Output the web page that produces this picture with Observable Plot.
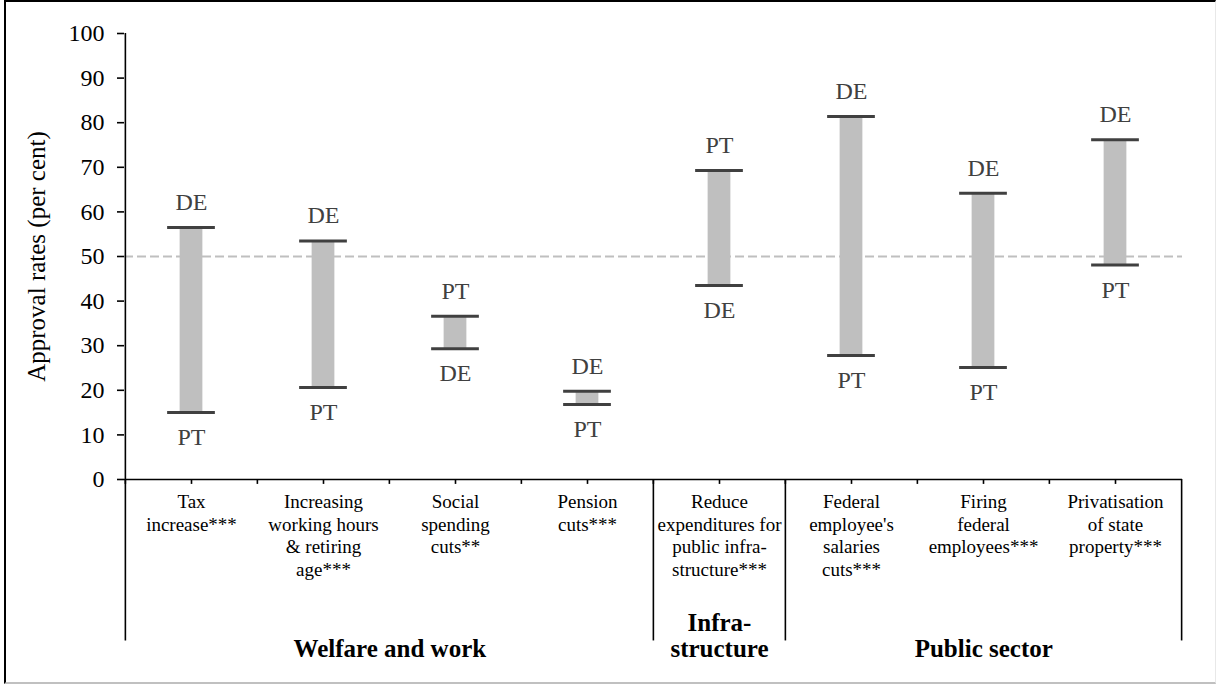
<!DOCTYPE html>
<html>
<head>
<meta charset="utf-8">
<script src="https://cdn.jsdelivr.net/npm/d3@7"></script>
<script src="https://cdn.jsdelivr.net/npm/@observablehq/plot@0.6"></script>
<style>
  html, body { margin: 0; padding: 0; background: #fff; }
  #wrap { position: relative; width: 1216px; height: 684px; overflow: hidden; }
  #border { position: absolute; left: 4px; top: 0; width: 1212px; height: 684px; box-sizing: border-box;
    border-top: 2px solid #000; border-left: 2px solid #000; border-bottom: 2px solid #c0c0c0; border-right: 1px solid #e8e8e8;
    pointer-events: none; }
</style>
</head>
<body>
<div id="wrap"><div id="border"></div></div>
<script>
// ---- data ----
const categories = [
  "Tax\nincrease***",
  "Increasing\nworking hours\n& retiring\nage***",
  "Social\nspending\ncuts**",
  "Pension\ncuts***",
  "Reduce\nexpenditures for\npublic infra-\nstructure***",
  "Federal\nemployee's\nsalaries\ncuts***",
  "Firing\nfederal\nemployees***",
  "Privatisation\nof state\nproperty***"
];
const deValues = [56.5, 53.5, 29.3, 19.8, 43.5, 81.4, 64.2, 76.2];
const ptValues = [15.0, 20.6, 36.6, 16.8, 69.3, 27.8, 25.1, 48.1];
const groupNames = ["Welfare and work", "Infra-\nstructure", "Public sector"];
const groupStart = [0, 4, 5];
const groupEnd = [4, 5, 8];
const yTicks = [0, 10, 20, 30, 40, 50, 60, 70, 80, 90, 100];
const referenceLine = 50;
const yTitle = "Approval rates (per cent)";

// ---- layout ----
const W = 1216, H = 684, ML = 124, MR = 34, MT = 33, MB = 205;
const bw = (W - ML - MR) / categories.length;
const barW = 23, capW = 48;

const rows = categories.map((c, i) => ({
  cat: c, de: deValues[i], pt: ptValues[i],
  hi: Math.max(deValues[i], ptValues[i]), lo: Math.min(deValues[i], ptValues[i]),
  hiLab: deValues[i] >= ptValues[i] ? "DE" : "PT",
  loLab: deValues[i] >= ptValues[i] ? "PT" : "DE"
}));

const lineBottom = -36.2;   // divider lines below the axis (in y units)
const tickBottom = -1.1;

const boundaries = [...new Set([...groupStart, ...groupEnd])];
const dividerMarks = boundaries.map(b => Plot.ruleX([categories[Math.min(b, categories.length - 1)]], {
  y1: () => b === 0 ? 100 : 0, y2: () => lineBottom,
  dx: b < categories.length ? -bw / 2 : bw / 2,
  stroke: "#000", strokeWidth: 1.6
}));

const groupMarks = groupNames.map((g, k) => Plot.text([g], {
  x: () => categories[groupStart[k]], y: () => 0,
  dx: (groupEnd[k] - groupStart[k]) * bw / 2 - bw / 2,
  dy: 177, lineAnchor: "bottom", lineHeight: 1.02,
  fontSize: 25, fontWeight: "bold", fill: "#000", text: d => d
}));

const chart = Plot.plot({
  width: W, height: H,
  marginLeft: ML, marginRight: MR, marginTop: MT, marginBottom: MB,
  style: { fontFamily: "'Liberation Serif', 'Times New Roman', serif", fontSize: "23px", background: "transparent", color: "#000", overflow: "visible" },
  x: { type: "band", domain: categories, padding: 0, axis: null },
  y: { domain: [0, 100], axis: null },
  marks: [
    Plot.ruleY([referenceLine], { stroke: "#bfbfbf", strokeWidth: 2, strokeDasharray: "9,4" }),
    Plot.barY(rows, { x: "cat", y1: "lo", y2: "hi", fill: "#bfbfbf",
      insetLeft: (bw - barW) / 2, insetRight: (bw - barW) / 2 }),
    Plot.tickY(rows, { x: "cat", y: "de", stroke: "#404040", strokeWidth: 3,
      insetLeft: (bw - capW) / 2, insetRight: (bw - capW) / 2 }),
    Plot.tickY(rows, { x: "cat", y: "pt", stroke: "#404040", strokeWidth: 3,
      insetLeft: (bw - capW) / 2, insetRight: (bw - capW) / 2 }),
    Plot.text(rows, { x: "cat", y: "hi", text: "hiLab", lineAnchor: "bottom", dy: -17.5, fontSize: 24, fill: "#404040" }),
    Plot.text(rows, { x: "cat", y: "lo", text: "loLab", lineAnchor: "top", dy: 15.5, fontSize: 24, fill: "#404040" }),
    // axes
    Plot.axisY({ ticks: yTicks, tickSize: 7, tickPadding: 13, fontSize: 24, label: null, stroke: "#000", strokeWidth: 1.6, fill: "#000" }),
    Plot.ruleY([0], { stroke: "#000", strokeWidth: 1.6 }),
    Plot.ruleX(categories, { y1: () => 0, y2: () => tickBottom, stroke: "#000", strokeWidth: 1.6 }),
    Plot.ruleX(categories, { y1: () => 0, y2: () => tickBottom, dx: -bw / 2, stroke: "#000", strokeWidth: 1.6 }),
    ...dividerMarks,
    Plot.text(categories, { x: d => d, y: () => 0, text: d => d, lineAnchor: "top", dy: 13, lineHeight: 1.18, fontSize: 19, fill: "#000" }),
    ...groupMarks,
    Plot.text([yTitle], { frameAnchor: "left", textAnchor: "middle", dx: -88, rotate: -90, fontSize: 25, fill: "#000", text: d => d })
  ]
});
document.getElementById("wrap").prepend(chart);
</script>
</body>
</html>
